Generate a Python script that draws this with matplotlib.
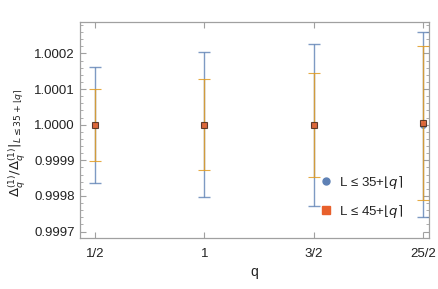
import matplotlib
matplotlib.use('Agg')
import matplotlib.pyplot as plt
from matplotlib.ticker import MultipleLocator, FormatStrFormatter
from matplotlib.lines import Line2D

# data
q_labels = ['1/2', '1', '3/2', '25/2']
q_pos = [1, 2, 3, 4]

# L <= 35 + round(q)
val_35 = [1.0, 1.0, 1.0, 1.0]
err_35 = [0.000163, 0.000203, 0.000227, 0.000260]

# L <= 45 + round(q)
val_45 = [1.0, 1.0, 1.0, 1.0000045]
err_45 = [0.000101, 0.000128, 0.000146, 0.000217]

blue = '#5E81B5'
orange = '#E19C24'
square = '#E8602C'
frame = '#A0A0A0'

plt.rcParams['font.family'] = ['Liberation Sans', 'DejaVu Sans']
plt.rcParams['mathtext.fontset'] = 'dejavusans'

fig = plt.figure(figsize=(4.39, 2.89), dpi=100)
ax = fig.add_axes([0.182, 0.1765, 0.795, 0.748])

ax.errorbar(q_pos, val_35, yerr=err_35, fmt='o', color=blue, ms=4,
            ecolor=blue, elinewidth=1, capsize=4, capthick=1, alpha=0.8,
            zorder=2)
ax.errorbar(q_pos, val_45, yerr=err_45, fmt='s', color=square, ms=5,
            mec='#4a2a1a', mew=0.8, ecolor=orange, elinewidth=1, capsize=4,
            capthick=1, alpha=0.85, zorder=3)

ax.set_xlim(0.862, 4.055)
ax.set_ylim(0.999682, 1.0002886)

ax.set_xticks(q_pos)
ax.set_xticklabels(q_labels)
ax.yaxis.set_major_locator(MultipleLocator(0.0001))
ax.yaxis.set_minor_locator(MultipleLocator(0.00002))
ax.yaxis.set_major_formatter(FormatStrFormatter('%.4f'))

ax.tick_params(axis='both', which='both', direction='in', colors=frame,
               labelcolor='#222222', labelsize=9.5, top=True, right=True)
ax.tick_params(axis='both', which='major', length=4, width=0.8)
ax.tick_params(axis='y', which='minor', length=2, width=0.6)
ax.tick_params(axis='x', which='major', pad=7)
for s in ax.spines.values():
    s.set_color(frame)
    s.set_linewidth(0.9)

ax.set_xlabel('q', fontsize=10, labelpad=4, color='#222222')
ax.set_ylabel(r'$\Delta_q^{(1)}/\Delta_q^{(1)}|_{L\leq 35+\lfloor q\rceil}$',
              fontsize=9.5, color='#222222')
ax.yaxis.set_label_coords(-0.15, 0.44)

handles = [
    Line2D([0], [0], marker='o', ls='none', color=blue, ms=5),
    Line2D([0], [0], marker='s', ls='none', color=square, ms=6),
]
labels = [r'L ≤ 35+$\lfloor q\rceil$', r'L ≤ 45+$\lfloor q\rceil$']
ax.legend(handles, labels, loc='center left', bbox_to_anchor=(0.655, 0.19),
          frameon=False, fontsize=9.5, handlelength=0.8, handletextpad=0.6,
          labelspacing=0.9, labelcolor='#222222')

fig.savefig('out.png', dpi=100)
